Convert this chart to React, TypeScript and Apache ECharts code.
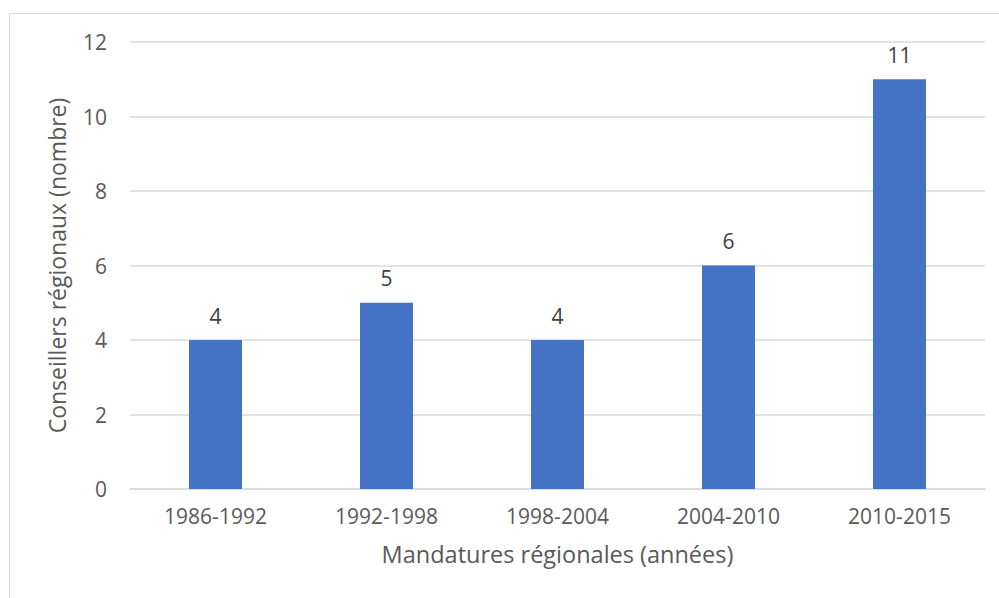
import React, { useEffect, useRef } from "react";
import * as echarts from "echarts";

const categories = ["1986-1992", "1992-1998", "1998-2004", "2004-2010", "2010-2015"];
const values = [4, 5, 4, 6, 11];
const xAxisTitle = "Mandatures régionales (années)";
const yAxisTitle = "Conseillers régionaux (nombre)";

export default function App() {
  const ref = useRef<HTMLDivElement>(null);
  useEffect(() => {
    if (!ref.current) return;
    const chart = echarts.init(ref.current, null, { renderer: "svg" });
    const font = "'Open Sans', sans-serif";
    chart.setOption({
      animation: false,
      backgroundColor: "#ffffff",
      textStyle: { fontFamily: font },
      graphic: [
        {
          type: "rect",
          shape: { x: 9.5, y: 13.5, width: 1200, height: 800 },
          style: { fill: "none", stroke: "#D9D9D9", lineWidth: 1 },
          silent: true,
        },
      ],
      grid: { left: 130, right: 14, top: 42, bottom: 109 },
      xAxis: {
        type: "category",
        data: categories,
        name: xAxisTitle,
        nameLocation: "middle",
        nameGap: 53,
        nameTextStyle: { color: "#595959", fontSize: 23.5, fontFamily: font },
        axisLine: { show: true, lineStyle: { color: "#D9D9D9", width: 1.5 } },
        axisTick: { show: false },
        axisLabel: { color: "#595959", fontSize: 21, margin: 16, fontFamily: font },
      },
      yAxis: {
        type: "value",
        min: 0,
        max: 12,
        interval: 2,
        name: yAxisTitle,
        nameLocation: "middle",
        nameGap: 62,
        nameTextStyle: { color: "#595959", fontSize: 23, fontFamily: font },
        axisLine: { show: false },
        axisTick: { show: false },
        axisLabel: { color: "#595959", fontSize: 21, margin: 23, fontFamily: font },
        splitLine: { lineStyle: { color: "#D9D9D9", width: 1.5 } },
      },
      series: [
        {
          type: "bar",
          data: values,
          barWidth: 53,
          itemStyle: { color: "#4472C4" },
          label: {
            show: true,
            position: "top",
            distance: 14,
            color: "#404040",
            fontSize: 21,
            fontFamily: font,
          },
        },
      ],
    });
    return () => chart.dispose();
  }, []);
  return (
    <div style={{ position: "fixed", left: 0, top: 0, width: 999, height: 598 }}>
      <div ref={ref} style={{ width: 999, height: 598 }} />
    </div>
  );
}
